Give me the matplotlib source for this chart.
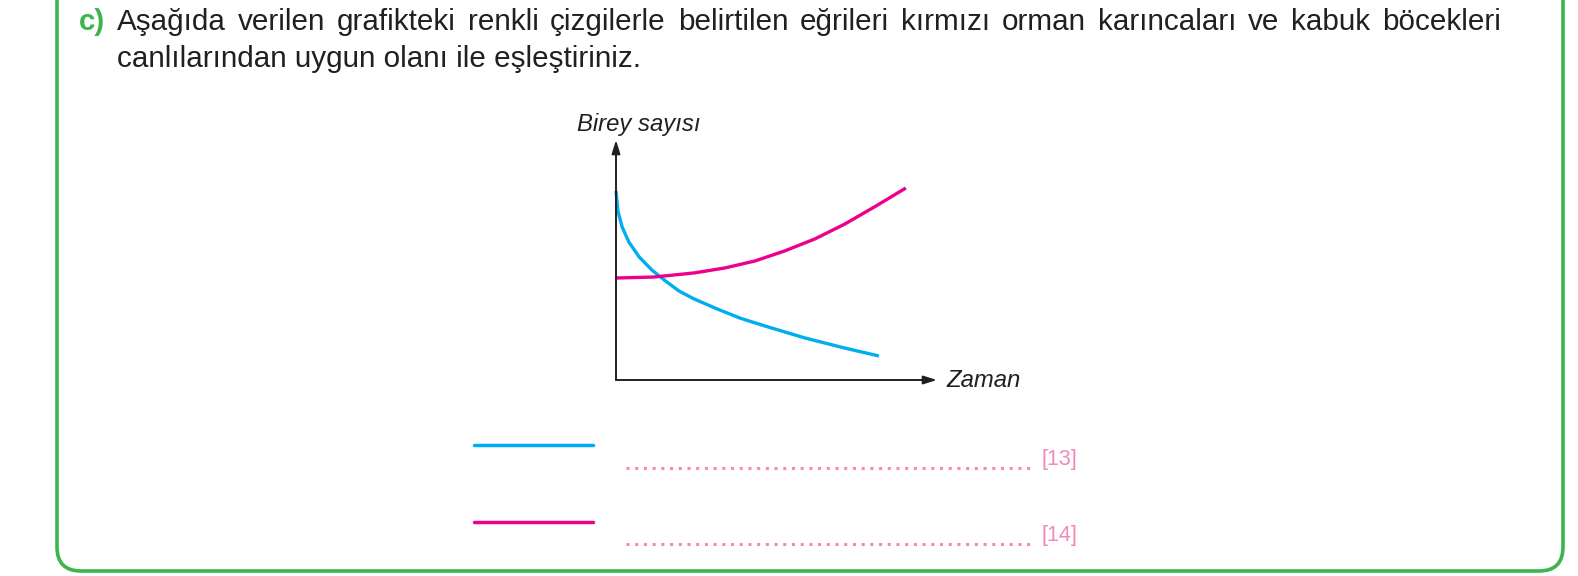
import matplotlib
matplotlib.use("Agg")
import matplotlib.pyplot as plt
from matplotlib.patches import FancyBboxPatch

plt.rcParams['font.family'] = ['Liberation Sans', 'DejaVu Sans']

# curve values (time / individual count, arbitrary units)
blue_x = [0.0, 0.06, 0.19, 0.40, 0.72, 1.12, 1.50, 1.96, 2.43, 3.08, 3.86, 4.64, 5.89, 7.13, 8.19]
blue_y = [7.88, 7.04, 6.38, 5.75, 5.13, 4.58, 4.17, 3.71, 3.38, 3.00, 2.58, 2.25, 1.75, 1.33, 1.00]
pink_x = [0.0, 1.18, 2.43, 3.40, 4.33, 5.26, 6.20, 7.13, 8.10, 9.03]
pink_y = [4.25, 4.29, 4.46, 4.67, 4.96, 5.38, 5.88, 6.50, 7.25, 8.00]

title_label = "c)"
title_line1 = ("Aşağıda verilen grafikteki renkli çizgilerle belirtilen eğrileri "
               "kırmızı orman karıncaları ve kabuk böcekleri")
title_line2 = "canlılarından uygun olanı ile eşleştiriniz."
ylabel = "Birey sayısı"
xlabel = "Zaman"
answer_marks = ["[13]", "[14]"]

BLUE = '#00aeef'
PINK = '#ec008c'
LIGHT_PINK = '#f18ab8'
GREEN = '#3cb54a'
TXT = '#231f20'

W, H = 1578, 576
fig = plt.figure(figsize=(W / 100, H / 100), dpi=100)

# full-figure overlay in pixel units
bg = fig.add_axes([0, 0, 1, 1])
bg.set_xlim(0, W)
bg.set_ylim(H, 0)
bg.axis('off')

frame = FancyBboxPatch((57, -60), 1563 - 57, 571 + 60, boxstyle="round,pad=0,rounding_size=24",
                       fc='none', ec=GREEN, lw=2.6)
bg.add_patch(frame)

# heading text, first line justified
fs = 21.3
bg.text(79, 30, title_label, color=GREEN, fontsize=fs, fontweight='bold', va='baseline')
renderer = fig.canvas.get_renderer()
words = title_line1.split()
arts = [bg.text(0, 30, w, color=TXT, fontsize=fs, va='baseline') for w in words]
widths = [a.get_window_extent(renderer).width for a in arts]
x0, x1 = 117, 1501
gap = (x1 - x0 - sum(widths)) / (len(words) - 1)
xpos = x0
for a, w in zip(arts, widths):
    a.set_x(xpos)
    xpos += w + gap
bg.text(117, 67, title_line2, color=TXT, fontsize=fs, va='baseline')

# chart
ax = fig.add_axes([616 / W, (H - 380) / H, (937 - 616) / W, (380 - 140) / H])
ax.set_xlim(0, 10)
ax.set_ylim(0, 10)
ax.axis('off')
for tip in [(1, 0), (0, 1)]:
    ax.annotate('', xy=tip, xytext=(0, 0), xycoords='axes fraction',
                arrowprops=dict(arrowstyle='-|>,head_length=0.8,head_width=0.25', lw=1.4,
                                color=TXT, shrinkA=0, shrinkB=0))
ax.plot(blue_x, blue_y, color=BLUE, lw=2.4, solid_capstyle='butt', solid_joinstyle='round',
        clip_on=False)
ax.plot(pink_x, pink_y, color=PINK, lw=2.4, solid_capstyle='butt', solid_joinstyle='round',
        clip_on=False)

bg.text(577, 131, ylabel, color=TXT, fontsize=17.2, style='italic', va='baseline')
bg.text(946, 387, xlabel, color=TXT, fontsize=17.2, style='italic', va='baseline')

# answer lines
key_y = [445, 522]
dot_y = [468, 544]
for c, ky, dy, mark in zip([BLUE, PINK], key_y, dot_y, answer_marks):
    bg.plot([474, 593], [ky, ky], color=c, lw=2.5, solid_capstyle='round')
    bg.plot([626, 1030], [dy, dy], color=LIGHT_PINK, lw=2.2, linestyle=(0, (1, 1.85)),
            dash_capstyle='butt')
    bg.text(1042, dy - 3, mark, color=LIGHT_PINK, fontsize=15.5, va='baseline')

fig.savefig('out.png', dpi=100)
